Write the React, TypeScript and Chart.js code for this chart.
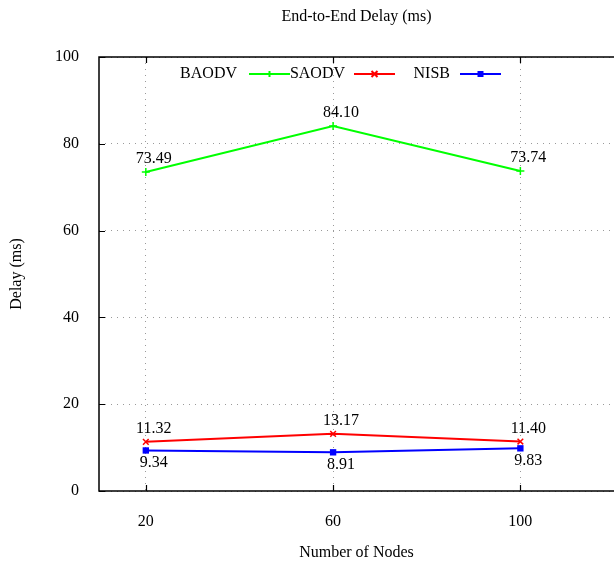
import React, { useEffect, useRef } from "react";
import { Chart, registerables } from "chart.js";

Chart.register(...registerables);

const nodeCounts = [20, 60, 100];
const baodvDelay = [73.49, 84.1, 73.74];
const saodvDelay = [11.32, 13.17, 11.4];
const nisbDelay = [9.34, 8.91, 9.83];
const yTickValues = [0, 20, 40, 60, 80, 100];
const seriesNames = ["BAODV", "SAODV", "NISB"];

const FONT = "'Liberation Serif', 'Times New Roman', serif";

const framePlugin = {
  id: "gnuplotFrame",
  afterDatasetsDraw(chart: any) {
    const { ctx, chartArea } = chart;
    const { left, top, bottom } = chartArea;
    const xs = chart.scales.x;
    const ys = chart.scales.y;
    ctx.save();
    // frame
    ctx.strokeStyle = "#000";
    ctx.lineWidth = 1.5;
    ctx.beginPath();
    ctx.moveTo(chart.width + 2, top);
    ctx.lineTo(left, top);
    ctx.lineTo(left, bottom);
    ctx.lineTo(chart.width + 2, bottom);
    ctx.stroke();
    // ticks
    ctx.lineWidth = 1.2;
    ctx.beginPath();
    for (const v of nodeCounts) {
      const px = Math.round(xs.getPixelForValue(v)) + 0.5;
      ctx.moveTo(px, bottom);
      ctx.lineTo(px, bottom - 6);
      ctx.moveTo(px, top);
      ctx.lineTo(px, top + 6);
    }
    for (const v of yTickValues) {
      const py = Math.round(ys.getPixelForValue(v)) + 0.5;
      ctx.moveTo(left, py);
      ctx.lineTo(left + 6, py);
    }
    ctx.stroke();

    // data labels
    ctx.fillStyle = "#000";
    ctx.font = `16px ${FONT}`;
    ctx.textAlign = "center";
    ctx.textBaseline = "middle";
    chart.data.datasets.forEach((ds: any, i: number) => {
      const meta = chart.getDatasetMeta(i);
      meta.data.forEach((pt: any, j: number) => {
        const val = ds.data[j].y as number;
        const dy = i === 2 ? 12 : -13;
        ctx.fillText(val.toFixed(2), pt.x + 8, pt.y + dy);
      });
    });

    // titles
    const cx = (left + 614) / 2;
    ctx.font = `16px ${FONT}`;
    ctx.fillText("End-to-End Delay (ms)", cx, 17);
    ctx.fillText("Number of Nodes", cx, 553);
    ctx.save();
    ctx.translate(17, (top + bottom) / 2);
    ctx.rotate(-Math.PI / 2);
    ctx.fillText("Delay (ms)", 0, 0);
    ctx.restore();

    // legend
    const legendY = 74;
    const entries = [
      { textRight: 237, lineStart: 249, color: "#00ff00", style: "cross" },
      { textRight: 345, lineStart: 354, color: "#ff0000", style: "crossRot" },
      { textRight: 450, lineStart: 460, color: "#0000ff", style: "rect" },
    ];
    entries.forEach((e, i) => {
      ctx.fillStyle = "#000";
      ctx.textAlign = "right";
      ctx.fillText(seriesNames[i], e.textRight, legendY);
      ctx.strokeStyle = e.color;
      ctx.lineWidth = 2;
      ctx.beginPath();
      ctx.moveTo(e.lineStart, legendY);
      ctx.lineTo(e.lineStart + 41, legendY);
      ctx.stroke();
      const mx = e.lineStart + 20.5;
      ctx.beginPath();
      if (e.style === "cross") {
        ctx.moveTo(mx - 3, legendY);
        ctx.lineTo(mx + 3, legendY);
        ctx.moveTo(mx, legendY - 3);
        ctx.lineTo(mx, legendY + 3);
        ctx.stroke();
      } else if (e.style === "crossRot") {
        ctx.moveTo(mx - 3, legendY - 3);
        ctx.lineTo(mx + 3, legendY + 3);
        ctx.moveTo(mx + 3, legendY - 3);
        ctx.lineTo(mx - 3, legendY + 3);
        ctx.stroke();
      } else {
        ctx.fillStyle = e.color;
        ctx.fillRect(mx - 3, legendY - 3, 6, 6);
      }
    });
    ctx.restore();
  },
};

export default function App() {
  const canvasRef = useRef<HTMLCanvasElement | null>(null);

  useEffect(() => {
    document.body.style.overflow = "hidden";
    const canvas = canvasRef.current;
    if (!canvas) return;
    const mk = (vals: number[]) => vals.map((v, i) => ({ x: nodeCounts[i], y: v }));
    const chart = new Chart(canvas, {
      type: "line",
      data: {
        datasets: [
          {
            label: seriesNames[0],
            data: mk(baodvDelay),
            borderColor: "#00ff00",
            backgroundColor: "#00ff00",
            borderWidth: 2,
            pointStyle: "cross",
            pointRadius: 4,
            pointBorderWidth: 1.5,
            tension: 0,
          },
          {
            label: seriesNames[1],
            data: mk(saodvDelay),
            borderColor: "#ff0000",
            backgroundColor: "#ff0000",
            borderWidth: 2,
            pointStyle: "crossRot",
            pointRadius: 4,
            pointBorderWidth: 1.5,
            tension: 0,
          },
          {
            label: seriesNames[2],
            data: mk(nisbDelay),
            borderColor: "#0000ff",
            backgroundColor: "#0000ff",
            borderWidth: 2,
            pointStyle: "rect",
            pointRadius: 4.5,
            pointBorderWidth: 0,
            tension: 0,
          },
        ],
      },
      options: {
        animation: false,
        responsive: false,
        maintainAspectRatio: false,
        layout: { autoPadding: false, padding: { top: 57, left: 0, right: 0, bottom: 0 } },
        plugins: {
          legend: { display: false },
          title: { display: false },
          tooltip: { enabled: false },
        },
        scales: {
          x: {
            type: "linear",
            min: 10,
            max: 120,
            afterBuildTicks: (scale: any) => {
              scale.ticks = nodeCounts.map((v) => ({ value: v }));
            },
            afterFit: (scale: any) => {
              scale.height = 76;
              scale.paddingLeft = 0;
              scale.paddingRight = 0;
            },
            ticks: {
              color: "#000",
              font: { family: FONT, size: 16 },
              padding: 21,
              maxRotation: 0,
              autoSkip: false,
            },
            grid: {
              color: "#9a9a9a",
              lineWidth: 1,
              drawTicks: false,
            },
            border: { display: false, dash: [1, 5] },
          },
          y: {
            type: "linear",
            min: 0,
            max: 100,
            afterBuildTicks: (scale: any) => {
              scale.ticks = yTickValues.map((v) => ({ value: v }));
            },
            afterFit: (scale: any) => {
              scale.width = 99;
              scale.paddingTop = 0;
              scale.paddingBottom = 0;
            },
            ticks: {
              color: "#000",
              font: { family: FONT, size: 16 },
              padding: 20,
            },
            grid: {
              color: "#9a9a9a",
              lineWidth: 1,
              drawTicks: false,
            },
            border: { display: false, dash: [1, 5] },
          },
        },
      },
      plugins: [framePlugin],
    });
    return () => chart.destroy();
  }, []);

  return (
    <div style={{ position: "fixed", left: 0, top: 0, width: 614, height: 567, background: "#fff", overflow: "hidden" }}>
      <canvas ref={canvasRef} width={614} height={567} style={{ width: 614, height: 567 }} />
    </div>
  );
}
